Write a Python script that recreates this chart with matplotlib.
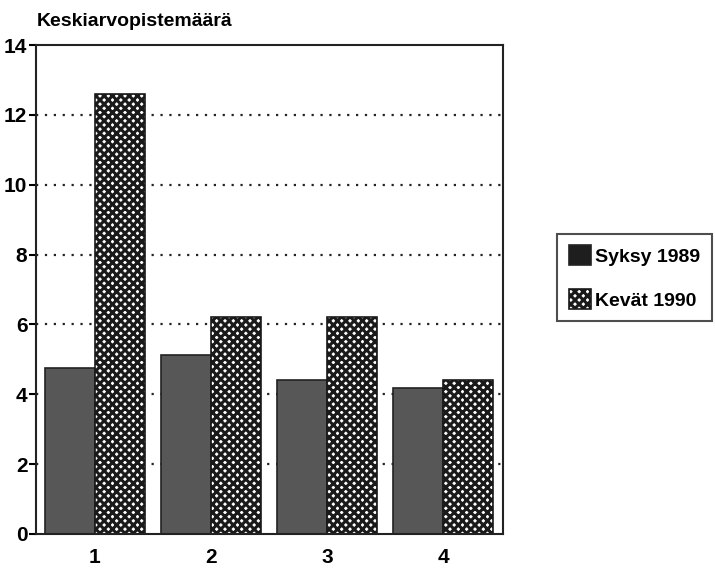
import numpy as np
import matplotlib.pyplot as plt

plt.rcParams['font.family'] = ['Liberation Sans', 'DejaVu Sans']
plt.rcParams['hatch.linewidth'] = 2.2

groups = ['1', '2', '3', '4']
syksy_1989 = [4.75, 5.12, 4.41, 4.18]
kevat_1990 = [12.6, 6.21, 6.21, 4.41]
y_ticks = [0, 2, 4, 6, 8, 10, 12, 14]

x = np.arange(1, len(groups) + 1)
w = 0.43

fig = plt.figure(figsize=(7.15, 5.71), dpi=100)
ax = fig.add_axes([0.050, 0.065, 0.653, 0.856])

for yv in y_ticks[1:-1]:
    ax.axhline(yv, color='#222222', ls=(0, (1, 3)), lw=1.6, zorder=0)

b1 = ax.bar(x - w / 2, syksy_1989, w, color='#575757', edgecolor='#222222', lw=1.2,
            label='Syksy 1989', zorder=2)
b2 = ax.bar(x + w / 2, kevat_1990, w, color='white', edgecolor='#1a1a1a', hatch='xxxx',
            lw=1.2, label='Kevät 1990', zorder=2)

ax.set_xlim(0.49, 4.51)
ax.set_ylim(0, 14)
ax.set_yticks(y_ticks)
ax.set_xticks(x)
ax.set_xticklabels(groups)
ax.tick_params(axis='y', direction='out', length=5, width=1.5, labelsize=15, pad=1)
ax.tick_params(axis='x', length=0, labelsize=15, pad=10)
for lab in ax.get_xticklabels() + ax.get_yticklabels():
    lab.set_fontweight('bold')
for s in ax.spines.values():
    s.set_linewidth(1.5)
    s.set_color('#222222')

fig.text(0.052, 0.955, 'Keskiarvopistemäärä', fontsize=14, fontweight='bold')

leg = fig.legend(handles=[b1, b2], loc='center left', bbox_to_anchor=(0.779, 0.514),
                 prop={'weight': 'bold', 'size': 14}, frameon=True,
                 fancybox=False, shadow=False, handlelength=1.15, handleheight=1.2,
                 handletextpad=0.2, labelspacing=1.2, borderpad=0.6,
                 borderaxespad=0)
leg.get_frame().set_edgecolor('#222222')
leg.get_frame().set_linewidth(1.5)
leg.legend_handles[0].set_facecolor('#1e1e1e')

plt.savefig('out.png', dpi=100)
